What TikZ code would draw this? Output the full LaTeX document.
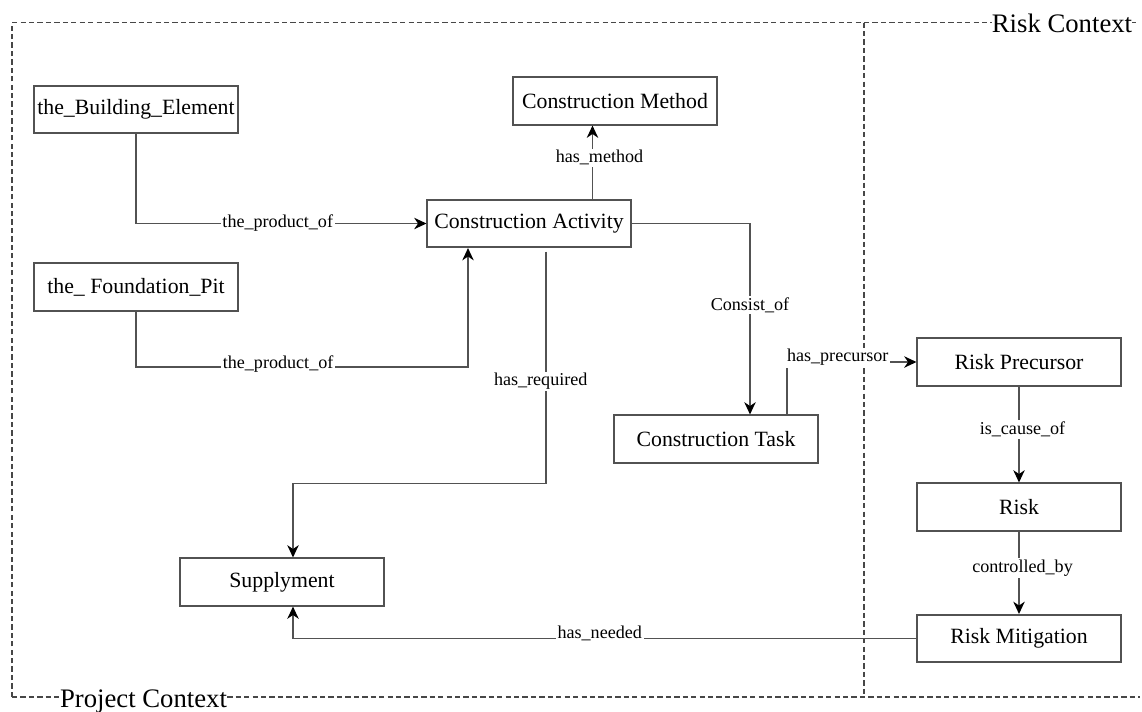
\documentclass[tikz,border=0pt]{standalone}
\usepackage{fontspec}
\setmainfont{Liberation Serif}
\usetikzlibrary{arrows.meta}
\begin{document}
\begin{tikzpicture}[x=0.02cm,y=-0.02cm,
 box/.style={draw=black!68, line width=0.9pt, minimum width=4.07cm, minimum height=0.95cm, inner sep=1pt, font=\fontsize{12.4}{14}\selectfont, fill=white},
 conn/.style={draw=black!68, line width=0.9pt, -{Stealth[length=7pt,width=6.5pt,inset=2.2pt,color=black]}},
 lbl/.style={fill=white, inner sep=1pt, font=\fontsize{10.3}{12}\selectfont, text=black},
 frame/.style={draw=black!72, line width=0.8pt, dash pattern=on 3pt off 1.8pt},
 ctx/.style={inner sep=0pt, font=\fontsize{15.2}{18}\selectfont}]
\useasboundingbox (0,0) rectangle (1142,711);

% context frames
\node[ctx, anchor=base] (rcl) at (1062,32) {Risk Context};
\node[ctx, anchor=base] (pcl) at (143.5,707) {Project Context};
\coordinate (tl) at (12,22.5);
\coordinate (bl) at (12,697);
\coordinate (tm) at (864,22.5);
\coordinate (bm) at (864,697);
\coordinate (tr) at (1136,22.5);
\coordinate (br) at (1140,697);
\draw[frame] (bl) -- (tl) -- (tl -| rcl.west);
\draw[frame] (tr -| rcl.east) -- (tr);
\draw[frame] (tm) -- (bm);
\draw[frame] (bl) -- (bl -| pcl.west);
\draw[frame] (br -| pcl.east) -- (br);

% nodes
\node[box] (be)   at (136,109.5) {the\_Building\_Element};
\node[box] (fp)   at (136,287)   {the\_ Foundation\_Pit};
\node[box] (cm)   at (615,101)   {Construction Method};
\node[box] (ca)   at (529,223.5) {Construction Activity};
\node[box] (ct)   at (716,439)   {Construction Task};
\node[box] (rp)   at (1019,362)  {Risk Precursor};
\node[box] (risk) at (1019,507)  {Risk};
\node[box] (rm)   at (1019,638.5){Risk Mitigation};
\node[box] (supp) at (282,582)   {Supplyment};

% connectors
\draw[conn] (be.south) |- node[lbl, pos=0.744] {the\_product\_of} (ca.west);
\draw[conn] (fp.south) -- ++(0,55.5) -| node[lbl, pos=0.214, yshift=1.5pt] {the\_product\_of} ([xshift=-1.22cm]ca.south);
\draw[conn] ([xshift=1.27cm]ca.north) -- node[lbl, pos=0.56, xshift=4pt] {has\_method} ([xshift=1.27cm]ca.north |- cm.south);
\draw[conn] (ca.east) -| node[lbl, pos=0.713] {Consist\_of} ([xshift=0.68cm]ct.north);
\draw[conn] ([xshift=0.34cm, yshift=-2pt]ca.south) -- node[lbl, pos=0.56, xshift=-3pt] {has\_required} ++(0,232) -| ([xshift=0.22cm]supp.north);
\draw[conn] ([xshift=1.42cm]ct.north) |- node[lbl, pos=0.696, yshift=2.5pt] {has\_precursor} (rp.west);
\draw[conn] (rp.south) -- node[lbl, pos=0.45, xshift=2pt] {is\_cause\_of} (risk.north);
\draw[conn] (risk.south) -- node[lbl, pos=0.44, xshift=2pt] {controlled\_by} (rm.north);
\draw[conn] (rm.west) -| node[lbl, pos=0.254, yshift=3pt] {has\_needed} ([xshift=0.22cm]supp.south);
\end{tikzpicture}
\end{document}
